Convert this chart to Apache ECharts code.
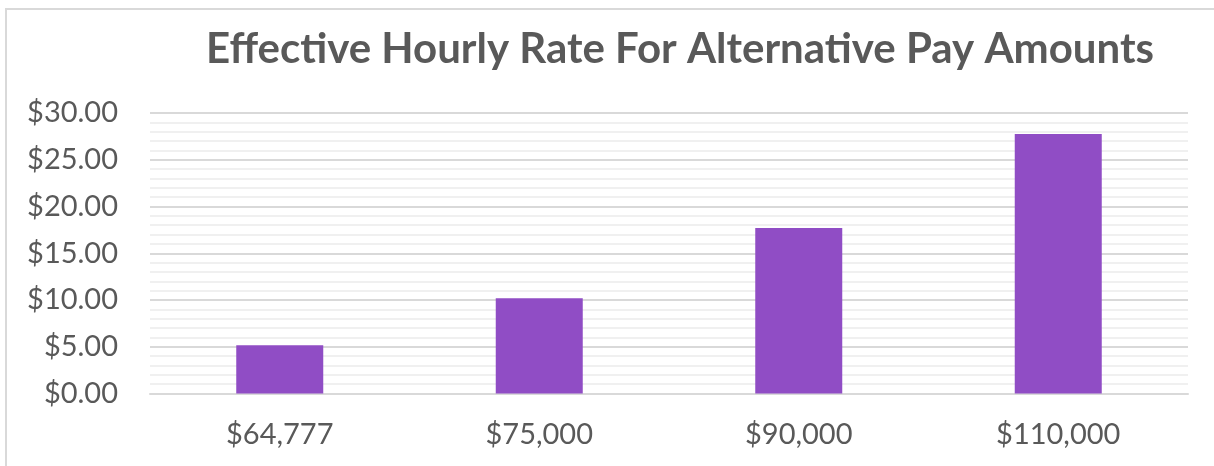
<!DOCTYPE html>
<html>
<head>
<meta charset="utf-8">
<script src="https://cdn.jsdelivr.net/npm/echarts@6/dist/echarts.min.js"></script>
<style>
html,body{margin:0;padding:0;background:#fff;}
#chart{width:1214px;height:466px;position:relative;}
#frame{position:absolute;left:5px;top:8px;width:1230px;height:480px;border-left:2px solid #d9d9d9;border-top:2px solid #d9d9d9;pointer-events:none;box-sizing:border-box;}
#wrap{position:relative;width:1214px;height:466px;overflow:hidden;}
</style>
</head>
<body>
<div id="wrap"><div id="chart"></div><div id="frame"></div></div>
<script>
const titleText = 'Effective Hourly Rate For Alternative Pay Amounts';
const categories = ['$64,777', '$75,000', '$90,000', '$110,000'];
const hourlyRate = [5.15, 10.2, 17.7, 27.75];
const yMin = 0, yMax = 30, yInterval = 5;

const chart = echarts.init(document.getElementById('chart'), null, {renderer: 'canvas'});
chart.setOption({
  animation: false,
  title: {
    text: titleText,
    left: 675,
    top: 23,
    textAlign: 'center',
    textStyle: {fontFamily: 'Lato', fontWeight: 'bold', fontSize: 42, color: '#595959'}
  },
  grid: {left: 150, right: 26, top: 113, bottom: 72.5, containLabel: false},
  xAxis: {
    type: 'category',
    data: categories,
    axisLine: {show: true, lineStyle: {color: '#d9d9d9', width: 2}},
    axisTick: {show: false},
    axisLabel: {fontFamily: 'Lato', fontSize: 29, color: '#595959', margin: 27}
  },
  yAxis: {
    type: 'value',
    min: yMin, max: yMax, interval: yInterval,
    axisLine: {show: false},
    axisTick: {show: false},
    axisLabel: {fontFamily: 'Lato', fontSize: 29, color: '#595959', margin: 32,
      formatter: v => '$' + v.toFixed(2)},
    splitLine: {show: true, lineStyle: {color: '#d9d9d9', width: 2}},
    minorTick: {show: false, splitNumber: 5},
    minorSplitLine: {show: true, lineStyle: {color: '#f0f0f0', width: 2}}
  },
  series: [{
    type: 'bar',
    data: hourlyRate,
    barWidth: 87,
    itemStyle: {color: '#904dc5'}
  }]
});
</script>
</body>
</html>
